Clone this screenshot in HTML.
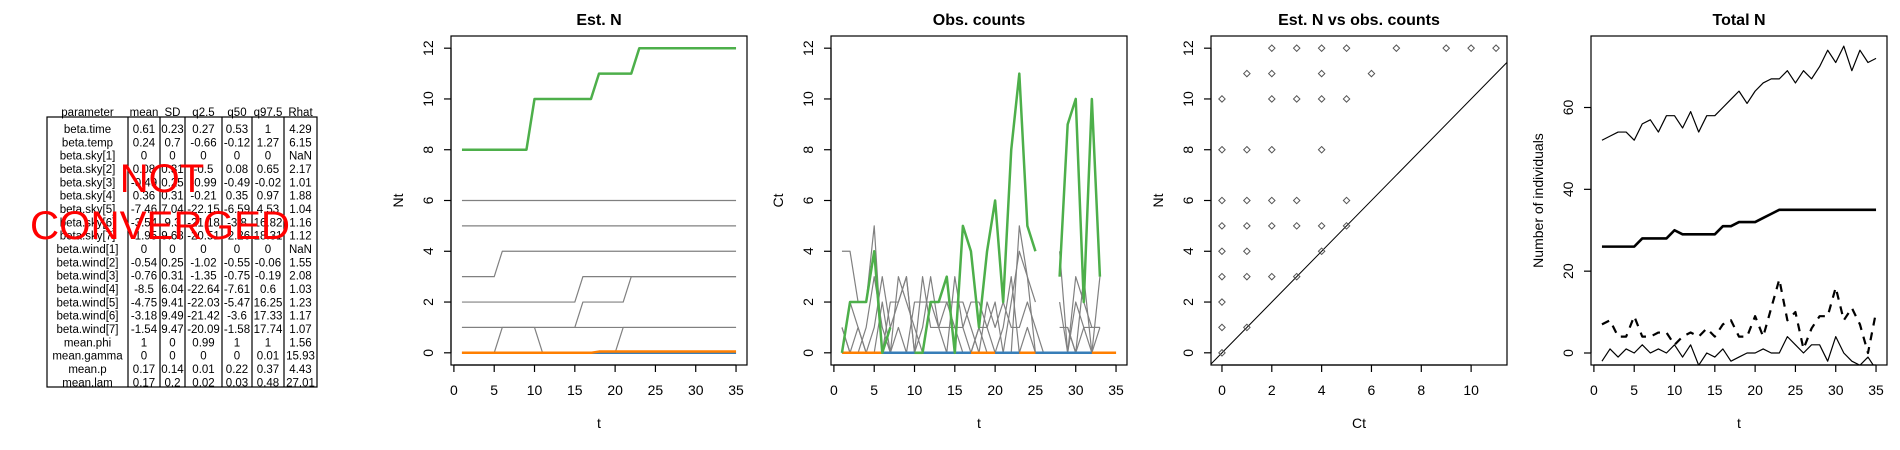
<!DOCTYPE html>
<html><head><meta charset="utf-8">
<style>
html,body{margin:0;padding:0;background:#fff;}
svg{display:block;font-family:"Liberation Sans",Arial,sans-serif;}
</style></head>
<body>
<svg id="fig" width="1900" height="450" viewBox="0 0 1900 450" xmlns="http://www.w3.org/2000/svg">
<g id="tbl"></g>
<g id="p2"></g>
<g id="p3"></g>
<g id="p4"></g>
<g id="p5"></g>
</svg>
<script>
// ---------- table data ----------
const tableHeader = ["parameter","mean","SD","q2.5","q50","q97.5","Rhat"];
const tableRows = [
["beta.time","0.61","0.23","0.27","0.53","1","4.29"],
["beta.temp","0.24","0.7","-0.66","-0.12","1.27","6.15"],
["beta.sky[1]","0","0","0","0","0","NaN"],
["beta.sky[2]","0.08","0.31","-0.5","0.08","0.65","2.17"],
["beta.sky[3]","-0.49","0.25","-0.99","-0.49","-0.02","1.01"],
["beta.sky[4]","0.36","0.31","-0.21","0.35","0.97","1.88"],
["beta.sky[5]","-7.46","7.04","-22.15","-6.59","4.53","1.04"],
["beta.sky[6]","-3.54","9.3","-21.18","-3.8","16.82","1.16"],
["beta.sky[7]","-1.95","9.68","-20.51","-2.26","18.31","1.12"],
["beta.wind[1]","0","0","0","0","0","NaN"],
["beta.wind[2]","-0.54","0.25","-1.02","-0.55","-0.06","1.55"],
["beta.wind[3]","-0.76","0.31","-1.35","-0.75","-0.19","2.08"],
["beta.wind[4]","-8.5","6.04","-22.64","-7.61","0.6","1.03"],
["beta.wind[5]","-4.75","9.41","-22.03","-5.47","16.25","1.23"],
["beta.wind[6]","-3.18","9.49","-21.42","-3.6","17.33","1.17"],
["beta.wind[7]","-1.54","9.47","-20.09","-1.58","17.74","1.07"],
["mean.phi","1","0","0.99","1","1","1.56"],
["mean.gamma","0","0","0","0","0.01","15.93"],
["mean.p","0.17","0.14","0.01","0.22","0.37","4.43"],
["mean.lam","0.17","0.2","0.02","0.03","0.48","27.01"]
];
// ---------- panel 2 (Est. N) ----------
const tVals = Array.from({length:35},(_, i)=>i+1);
const estGreen = [8,8,8,8,8,8,8,8,8,10,10,10,10,10,10,10,10,11,11,11,11,11,12,12,12,12,12,12,12,12,12,12,12,12,12];
const estGray1 = [6,6,6,6,6,6,6,6,6,6,6,6,6,6,6,6,6,6,6,6,6,6,6,6,6,6,6,6,6,6,6,6,6,6,6];
const estGray2 = [5,5,5,5,5,5,5,5,5,5,5,5,5,5,5,5,5,5,5,5,5,5,5,5,5,5,5,5,5,5,5,5,5,5,5];
const estGray3 = [3,3,3,3,3,4,4,4,4,4,4,4,4,4,4,4,4,4,4,4,4,4,4,4,4,4,4,4,4,4,4,4,4,4,4];
const estGray4 = [2,2,2,2,2,2,2,2,2,2,2,2,2,2,2,3,3,3,3,3,3,3,3,3,3,3,3,3,3,3,3,3,3,3,3];
const estGray5 = [1,1,1,1,1,1,1,1,1,1,1,1,1,1,1,2,2,2,2,2,2,3,3,3,3,3,3,3,3,3,3,3,3,3,3];
const estGray6 = [1,1,1,1,1,1,1,1,1,1,1,1,1,1,1,1,1,1,1,1,1,1,1,1,1,1,1,1,1,1,1,1,1,1,1];
const estGray7 = [0,0,0,0,0,1,1,1,1,1,0,0,0,0,0,0,0,0,0,0,1,1,1,1,1,1,1,1,1,1,1,1,1,1,1];
const estBlue = [0,0,0,0,0,0,0,0,0,0,0,0,0,0,0,0,0,0,0,0,0,0,0,0,0,0,0,0,0,0,0,0,0,0,0];
const estOrange = [0,0,0,0,0,0,0,0,0,0,0,0,0,0,0,0,0,0.05,0.05,0.05,0.05,0.05,0.05,0.05,0.05,0.05,0.05,0.05,0.05,0.05,0.05,0.05,0.05,0.05,0.05];
// ---------- panel 3 (Obs. counts) ----------
const N = NaN;
const obsGreen = [0,2,2,2,4,0,1,N,N,0,0,2,2,3,0,5,4,1,4,6,2,8,11,5,4,N,N,3,9,10,2,10,3,N,N];
const obsGray1 = [4,4,2,2,5,0,2,2,3,0,1,3,1,1,1,1,2,2,1,2,0,0,5,3,2,N,N,4,0,3,2,1,1,N,N];
const obsGray2 = [1,0,0,1,3,1,0,1,0,2,2,2,2,2,1,0,0,1,0,0,0,2,4,3,0,N,N,2,0,2,1,1,1,N,N];
const obsGray3 = [0,2,1,0,1,3,1,2,3,0,3,1,1,2,2,2,1,0,2,1,2,1,1,2,1,0,N,N,1,0,1,0,3,N,N];
const obsGray4 = [1,0,1,0,0,2,0,3,2,1,0,2,1,0,3,1,0,1,1,0,1,3,0,1,0,N,N,1,1,0,3,0,1,N,N];
const obsZero = [0,0,0,0,0,0,0,0,0,0,0,0,0,0,0,0,0,0,0,0,0,0,0,0,0,0,0,0,0,0,0,0,0,0,0];
const orangeRuns = [[1,6],[10,11],[17,20],[23,25],[32,35]];
// ---------- panel 4 (scatter) ----------
const scatCt = [2,3,4,5,7,9,10,11, 1,2,4,6, 0,2,3,4,5, 0,1,2,4, 0,1,2,3,5, 0,1,2,3,4,5, 0,1,4, 0,1,2,3, 0, 0,1, 0];
const scatNt = [12,12,12,12,12,12,12,12, 11,11,11,11, 10,10,10,10,10, 8,8,8,8, 6,6,6,6,6, 5,5,5,5,5,5, 4,4,4, 3,3,3,3, 2, 1,1, 0];
// ---------- panel 5 (Total N) ----------
const totUpper = [52,53,54,54,52,56,57,54,58,58,55,59,54,58,58,60,62,64,61,64,66,67,67,69,66,69,67,70,74,71,75,69,74,71,72];
const totMid = [26,26,26,26,26,28,28,28,28,30,29,29,29,29,29,31,31,32,32,32,33,34,35,35,35,35,35,35,35,35,35,35,35,35,35];
const totDash = [7,8,4,4,9,4,4,5,5,2,4,5,4,6,4,7,8,4,4,9,4,11,18,8,10,1,6,9,9,16,8,11,7,0,10];
const totLower = [-2,1,-1,1,0,2,0,1,0,2,-1,2,-3,0,-1,1,-2,-1,0,0,1,0,0,4,2,0,2,2,-2,4,0,-2,-3,-1,-4];

const NS = "http://www.w3.org/2000/svg";
function mk(parent, tag, attrs){
  const e = document.createElementNS(NS, tag);
  for (const k in attrs) e.setAttribute(k, attrs[k]);
  parent.appendChild(e);
  return e;
}
function scale(d0,d1,r0,r1){ return v => r0 + (v-d0)/(d1-d0)*(r1-r0); }

// ---------- draw table ----------
const tbl = document.getElementById('tbl');
const colEdges = [47,128,160,185,222,252,284,317];
const tTop = 117, tBot = 387, rowY0 = 129, rowH = 13.33;
const box = mk(tbl,'rect',{x:colEdges[0],y:tTop,width:colEdges[7]-colEdges[0],height:tBot-tTop,fill:'none',stroke:'#000','stroke-width':1.2});


for (let c=1;c<7;c++){
  const ln = mk(tbl,'line',{x1:colEdges[c],x2:colEdges[c],y1:tTop,y2:tBot,stroke:'#000','stroke-width':1.2});
  
  
}
tableHeader.forEach((h,c)=>{
  const tx = mk(tbl,'text',{x:(colEdges[c]+colEdges[c+1])/2,y:112+4,'text-anchor':'middle','font-size':11.5});
  tx.textContent = h;
  
  
});
tableRows.forEach((row,r)=>{
  row.forEach((v,c)=>{
    const tx = mk(tbl,'text',{x:(colEdges[c]+colEdges[c+1])/2,y:rowY0+r*rowH+4,'text-anchor':'middle','font-size':11.5});
    tx.textContent = v;
    
    
  });
});
const nc1 = mk(tbl,'text',{x:162,y:192,'text-anchor':'middle','font-size':40,fill:'#ff0000'});
nc1.textContent = 'NOT';


const nc2 = mk(tbl,'text',{x:160,y:239,'text-anchor':'middle','font-size':40,fill:'#ff0000',textLength:260,lengthAdjust:'spacingAndGlyphs'});
nc2.textContent = 'CONVERGED';



// ---------- generic panel frame ----------
function frame(g, off, title, xlab, ylab, xTicks, yTicks, sx, sy){
  const L=off+71, R=off+367, T=36, B=365;
  const rc = mk(g,'rect',{x:L,y:T,width:R-L,height:B-T,fill:'none',stroke:'#000','stroke-width':1.2});
  
  
  const ti = mk(g,'text',{x:(L+R)/2,y:25,'text-anchor':'middle','font-size':16,'font-weight':'bold'});
  ti.textContent = title;
  
  
  const xl = mk(g,'text',{x:(L+R)/2,y:428,'text-anchor':'middle','font-size':14});
  xl.textContent = xlab;
  
  
  const yl = mk(g,'text',{x:0,y:0,'text-anchor':'middle','font-size':14,transform:`translate(${off+23},${(T+B)/2}) rotate(-90)`});
  yl.textContent = ylab;
  
  
  const xa = mk(g,'line',{x1:sx(xTicks[0]),x2:sx(xTicks[xTicks.length-1]),y1:B,y2:B,stroke:'#000','stroke-width':1.2});
  
  
  xTicks.forEach(v=>{
    const tk = mk(g,'line',{x1:sx(v),x2:sx(v),y1:B,y2:B+7,stroke:'#000','stroke-width':1.2});
    
    
    const tl = mk(g,'text',{x:sx(v),y:395,'text-anchor':'middle','font-size':14});
    tl.textContent = v;
    
    
  });
  const ya = mk(g,'line',{x1:L,x2:L,y1:sy(yTicks[0]),y2:sy(yTicks[yTicks.length-1]),stroke:'#000','stroke-width':1.2});
  
  
  yTicks.forEach(v=>{
    const tk = mk(g,'line',{x1:L-7,x2:L,y1:sy(v),y2:sy(v),stroke:'#000','stroke-width':1.2});
    
    
    const tl = mk(g,'text',{x:0,y:0,'text-anchor':'middle','font-size':14,transform:`translate(${off+53},${sy(v)}) rotate(-90)`});
    tl.textContent = v;
    
    
  });
}
function series(g, xs, ys, sx, sy, stroke, w, name, dash){
  let d = '', pen = false;
  for (let i=0;i<xs.length;i++){
    if (isNaN(ys[i])) { pen = false; continue; }
    d += (pen ? 'L' : 'M') + sx(xs[i]).toFixed(2) + ',' + sy(ys[i]).toFixed(2);
    pen = true;
  }
  const p = mk(g,'path',{d:d,fill:'none',stroke:stroke,'stroke-width':w,'stroke-linejoin':'round'});
  if (dash) p.setAttribute('stroke-dasharray', dash);
  
  
  return p;
}
function clip(g, id, off){
  const cp = mk(g,'clipPath',{id:id});
  mk(cp,'rect',{x:off+71,y:36,width:296,height:329});
  return mk(g,'g',{'clip-path':`url(#${id})`});
}
const tTicks = [0,5,10,15,20,25,30,35];
const grayCol = '#808080';

// ---------- panel 2 ----------
{
  const g = document.getElementById('p2'); const off = 380;
  const sx = scale(-0.36,36.36,off+71,off+367), sy = scale(-0.48,12.48,365,36);
  frame(g,off,'Est. N','t','Nt',tTicks,[0,2,4,6,8,10,12],sx,sy);
  const c = clip(g,'c2',off);
  [estGray1,estGray2,estGray3,estGray4,estGray5,estGray6,estGray7].forEach((s,i)=>series(c,tVals,s,sx,sy,grayCol,1.2,'est-gray-line-'+(i+1)));
  series(c,tVals,estBlue,sx,sy,'#377eb8',2.5,'est-blue-line');
  series(c,tVals,estOrange,sx,sy,'#ff7f00',2.5,'est-orange-line');
  series(c,tVals,estGreen,sx,sy,'#4daf4a',2.5,'est-green-line');
}
// ---------- panel 3 ----------
{
  const g = document.getElementById('p3'); const off = 760;
  const sx = scale(-0.36,36.36,off+71,off+367), sy = scale(-0.48,12.48,365,36);
  frame(g,off,'Obs. counts','t','Ct',tTicks,[0,2,4,6,8,10,12],sx,sy);
  const c = clip(g,'c3',off);
  [obsGray1,obsGray2,obsGray3,obsGray4].forEach((s,i)=>series(c,tVals,s,sx,sy,grayCol,1.2,'obs-gray-line-'+(i+1)));
  series(c,tVals,obsZero,sx,sy,'#377eb8',2.5,'obs-blue-line');
  orangeRuns.forEach(r=>{
    const xs = tVals.filter(t=>t>=r[0]&&t<=r[1]);
    series(c,xs,xs.map(t=>obsZero[t-1]),sx,sy,'#ff7f00',2.5,'obs-orange-segment');
  });
  series(c,tVals,obsGreen,sx,sy,'#4daf4a',2.5,'obs-green-line');
}
// ---------- panel 4 ----------
{
  const g = document.getElementById('p4'); const off = 1140;
  const sx = scale(-0.44,11.44,off+71,off+367), sy = scale(-0.48,12.48,365,36);
  frame(g,off,'Est. N vs obs. counts','Ct','Nt',[0,2,4,6,8,10],[0,2,4,6,8,10,12],sx,sy);
  const c = clip(g,'c4',off);
  const ab = mk(c,'line',{x1:sx(-1),y1:sy(-1),x2:sx(13),y2:sy(13),stroke:'#000','stroke-width':1});
  
  
  scatCt.forEach((ct,i)=>{
    const x = sx(ct), y = sy(scatNt[i]);
    const pt = mk(c,'path',{d:`M${x},${y-3.2}L${x+3.2},${y}L${x},${y+3.2}L${x-3.2},${y}Z`,fill:'none',stroke:'#555','stroke-width':1});
    
    
  });
}
// ---------- panel 5 ----------
{
  const g = document.getElementById('p5'); const off = 1520;
  const sx = scale(-0.36,36.36,off+71,off+367), sy = scale(0,60,353,107.5);
  frame(g,off,'Total N','t','Number of individuals',tTicks,[0,20,40,60],sx,sy);
  const c = clip(g,'c5',off);
  series(c,tVals,totUpper,sx,sy,'#000',1.2,'total-upper-line');
  series(c,tVals,totMid,sx,sy,'#000',2.6,'total-mean-line');
  series(c,tVals,totDash,sx,sy,'#000',2.2,'total-dashed-line','8,7');
  series(c,tVals,totLower,sx,sy,'#000',1.2,'total-lower-line');
}
</script>
</body></html>
